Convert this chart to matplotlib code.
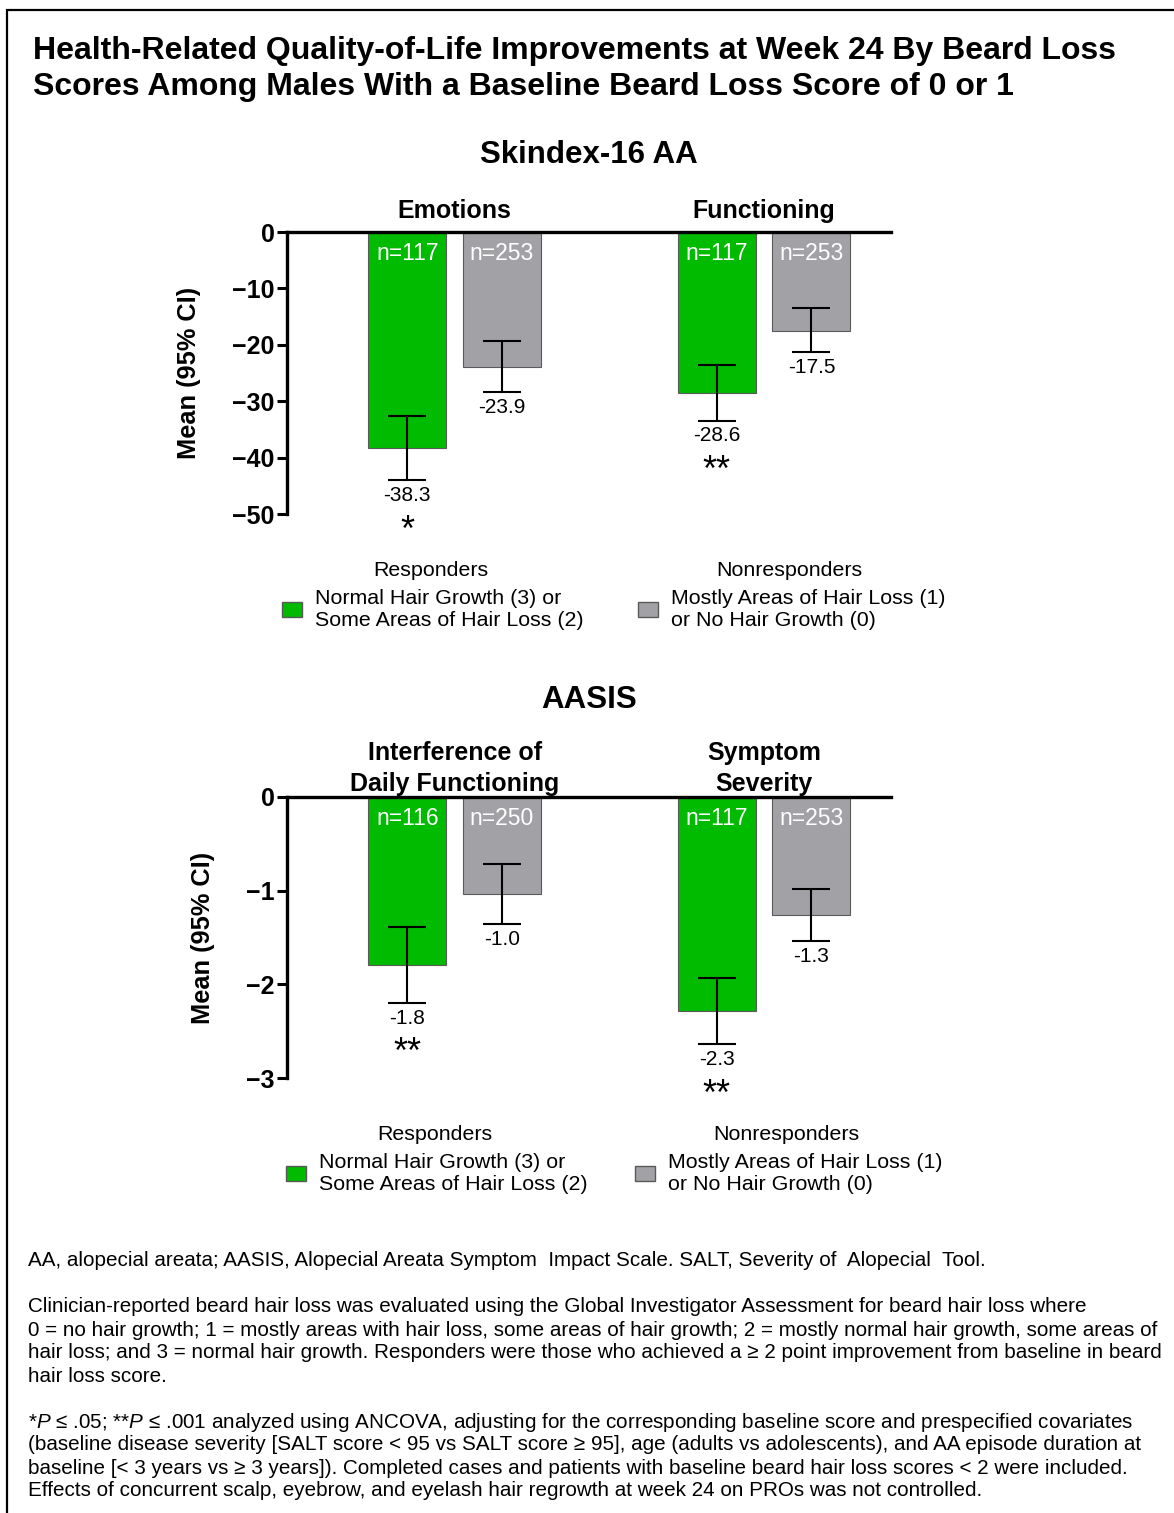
import numpy as np
import matplotlib
matplotlib.use('Agg')
import matplotlib.pyplot as plt
from matplotlib.patches import Patch, Rectangle

plt.rcParams['font.family'] = ['Liberation Sans', 'DejaVu Sans']
plt.rcParams['mathtext.fontset'] = 'custom'
plt.rcParams['mathtext.rm'] = 'Liberation Sans'
plt.rcParams['mathtext.it'] = 'Liberation Sans:italic'

# ---- data ----
top_groups = ['Emotions', 'Functioning']
top_resp = [-38.3, -28.6]
top_nonresp = [-23.9, -17.5]
top_resp_lo = [-44.0, -33.5]
top_resp_hi = [-32.6, -23.6]
top_nonresp_lo = [-28.4, -21.3]
top_nonresp_hi = [-19.4, -13.5]
top_resp_n = [117, 117]
top_nonresp_n = [253, 253]
top_stars = ['*', '**']

bot_groups = ['Interference of\nDaily Functioning', 'Symptom\nSeverity']
bot_resp = [-1.79, -2.28]
bot_nonresp = [-1.04, -1.26]
bot_resp_lo = [-2.20, -2.64]
bot_resp_hi = [-1.39, -1.93]
bot_nonresp_lo = [-1.36, -1.54]
bot_nonresp_hi = [-0.72, -0.98]
bot_resp_n = [116, 117]
bot_nonresp_n = [250, 253]
bot_stars = ['**', '**']

top_ticks = [0, -10, -20, -30, -40, -50]
bot_ticks = [0, -1, -2, -3]

resp_label = 'Normal Hair Growth (3) or\nSome Areas of Hair Loss (2)'
nonresp_label = 'Mostly Areas of Hair Loss (1)\nor No Hair Growth (0)'

footnote_1 = ['AA, alopecial areata; AASIS, Alopecial Areata Symptom  Impact Scale. '
              'SALT, Severity of  Alopecial  Tool.']
footnote_2 = ['Clinician-reported beard hair loss was evaluated using the Global Investigator '
              'Assessment for beard hair loss where',
              '0 = no hair growth; 1 = mostly areas with hair loss, some areas of hair growth; '
              '2 = mostly normal hair growth, some areas of',
              'hair loss; and 3 = normal hair growth. Responders were those who achieved a \u2265 2 '
              'point improvement from baseline in beard',
              'hair loss score.']
footnote_3 = ['*$P$ \u2264 .05; **$P$ \u2264 .001 analyzed using ANCOVA, adjusting for the '
              'corresponding baseline score and prespecified covariates',
              '(baseline disease severity [SALT score < 95 vs SALT score \u2265 95], age '
              '(adults vs adolescents), and AA episode duration at',
              'baseline [< 3 years vs \u2265 3 years]). Completed cases and patients with baseline '
              'beard hair loss scores < 2 were included.',
              'Effects of concurrent scalp, eyebrow, and eyelash hair regrowth at week 24 on PROs '
              'was not controlled.']

GREEN = '#00BB00'
GRAY = '#A2A1A6'
EDGE = '#5A5A5A'

W, H = 1174, 1513
fig = plt.figure(figsize=(W / 100, H / 100), dpi=100)


def px_axes(left, right, top, bottom):
    return fig.add_axes([left / W, 1 - bottom / H, (right - left) / W, (bottom - top) / H])


def draw_panel(ax, groups, resp, nonresp, r_lo, r_hi, n_lo, n_hi, r_n, n_n, stars, ticks,
               title_off, title_ls):
    x = np.arange(len(groups))
    off = 0.153
    width = 0.252
    series = [(x - off, resp, r_lo, r_hi, r_n, GREEN),
              (x + off, nonresp, n_lo, n_hi, n_n, GRAY)]
    for xs, vals, lo, hi, ns, col in series:
        vals = np.array(vals)
        ax.bar(xs, vals, width, color=col, edgecolor=EDGE, linewidth=0.8, zorder=2)
        ax.errorbar(xs, vals, yerr=[vals - np.array(lo), np.array(hi) - vals], fmt='none',
                    ecolor='black', elinewidth=1.5, capsize=14, capthick=1.5, zorder=3)
        for xi, v, l, n in zip(xs, vals, lo, ns):
            ax.annotate('n=%d' % n, (xi, 0), xytext=(0, -7), textcoords='offset points',
                        ha='center', va='top', color='white', fontsize=16.5)
            ax.annotate('%.1f' % v, (xi, l), xytext=(0, -4), textcoords='offset points',
                        ha='center', va='top', fontsize=15)
    for xi, l, s in zip(x - off, r_lo, stars):
        ax.annotate(s, (xi, l), xytext=(0, -24), textcoords='offset points',
                    ha='center', va='top', fontsize=26)
    for xi, g in zip(x, groups):
        ax.annotate(g, (xi, 0), xytext=(0, title_off), textcoords='offset points',
                    ha='center', va='baseline', fontsize=18, fontweight='bold',
                    linespacing=title_ls)

    ax.set_xlim(-0.542, 1.41)
    ax.set_ylim(min(ticks), 0)
    ax.set_yticks(ticks)
    ax.tick_params(axis='y', length=7, width=2.2, labelsize=18, pad=2)
    for lab in ax.get_yticklabels():
        lab.set_fontweight('bold')
    ax.set_xticks([])
    ax.spines['right'].set_visible(False)
    ax.spines['bottom'].set_visible(False)
    ax.spines['top'].set_linewidth(2.4)
    ax.spines['left'].set_linewidth(2.4)
    ax.set_ylabel('Mean (95% CI)', fontsize=18.3, fontweight='bold', labelpad=22)


def add_legends(ax, head_y, box_y, x_resp, x_non):
    kw = dict(frameon=False, fontsize=15.4, handlelength=0.95, handleheight=0.75,
              handletextpad=0.6, loc='upper center', bbox_transform=fig.transFigure,
              borderpad=0, borderaxespad=0)
    l1 = ax.legend([Patch(facecolor=GREEN, edgecolor=EDGE)], [resp_label],
                   bbox_to_anchor=(x_resp / W, 1 - box_y / H), **kw)
    ax.add_artist(l1)
    ax.legend([Patch(facecolor=GRAY, edgecolor=EDGE)], [nonresp_label],
              bbox_to_anchor=(x_non / W, 1 - box_y / H), **kw)
    fig.text(x_resp / W - 2 / W, 1 - head_y / H, 'Responders', ha='center', va='center',
             fontsize=15.4)
    fig.text(x_non / W - 3 / W, 1 - head_y / H, 'Nonresponders', ha='center', va='center',
             fontsize=15.4)


ax1 = px_axes(287, 891, 232, 514)
draw_panel(ax1, top_groups, top_resp, top_nonresp, top_resp_lo, top_resp_hi,
           top_nonresp_lo, top_nonresp_hi, top_resp_n, top_nonresp_n, top_stars, top_ticks,
           10, 1.2)
add_legends(ax1, 570, 589, 433, 792)

ax2 = px_axes(287, 891, 797, 1078)
draw_panel(ax2, bot_groups, bot_resp, bot_nonresp, bot_resp_lo, bot_resp_hi,
           bot_nonresp_lo, bot_nonresp_hi, bot_resp_n, bot_nonresp_n, bot_stars, bot_ticks,
           4, 1.4)
add_legends(ax2, 1134, 1153, 437, 789)

fig.text(33 / W, 1 - 69 / H,
         'Health-Related Quality-of-Life Improvements at Week 24 By Beard Loss\n'
         'Scores Among Males With a Baseline Beard Loss Score of 0 or 1',
         ha='left', va='center', fontsize=23, fontweight='bold', linespacing=1.26)
fig.text(589 / W, 1 - 155 / H, 'Skindex-16 AA', ha='center', va='center',
         fontsize=22.5, fontweight='bold')
fig.text(589 / W, 1 - 700 / H, 'AASIS', ha='center', va='center',
         fontsize=22.5, fontweight='bold')

fs = 14.9
for y0, lines in [(1259, footnote_1), (1305, footnote_2), (1420, footnote_3)]:
    for i, line in enumerate(lines):
        fig.text(28 / W, 1 - (y0 + 23 * i) / H, line, ha='left', va='center_baseline',
                 fontsize=fs)

# frame round the poster panel (right and bottom edges fall outside the image)
fig.add_artist(Rectangle((7 / W, -0.05), 1.1, 1.05 - 10 / H, transform=fig.transFigure,
                         fill=False, edgecolor='black', linewidth=1.6))

fig.savefig('out.png', dpi=100)
